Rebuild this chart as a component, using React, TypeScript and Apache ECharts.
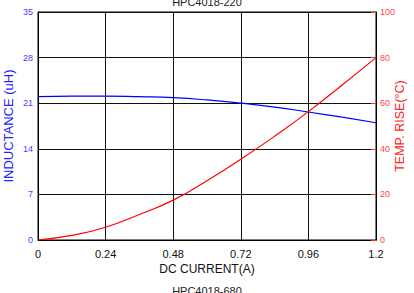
import React, { useEffect, useRef } from "react";
import * as echarts from "echarts";

const current = [0, 0.12, 0.24, 0.36, 0.48, 0.6, 0.72, 0.84, 0.96, 1.08, 1.2];
const inductance = [22.0, 22.1, 22.1, 22.0, 21.85, 21.5, 21.0, 20.4, 19.65, 18.85, 18.0];
const tempRise = [0, 2.0, 5.6, 11.2, 17.5, 26.0, 35.4, 45.5, 56.3, 68, 80];
const topTitle = "HPC4018-220";
const bottomTitle = "HPC4018-680";

export default function App() {
  const ref = useRef<HTMLDivElement>(null);
  useEffect(() => {
    if (!ref.current) return;
    const chart = echarts.init(ref.current, null, { renderer: "svg" });
    const font = "Liberation Sans, Arial, sans-serif";
    chart.setOption({
      animation: false,
      backgroundColor: "#ffffff",
      grid: {
        left: 38,
        top: 12,
        width: 338,
        height: 228,
        show: true,
        borderColor: "#000",
        borderWidth: 1,
        containLabel: false,
        outerBoundsMode: "none",
      },
      graphic: [
        { type: "text", left: "center", top: -4, style: { text: topTitle, font: `11px ${font}`, fill: "#222" } },
        { type: "text", left: "center", top: 285, style: { text: bottomTitle, font: `11px ${font}`, fill: "#222" } },
      ],
      xAxis: {
        type: "value",
        min: 0,
        max: 1.2,
        interval: 0.24,
        name: "DC CURRENT(A)",
        nameLocation: "middle",
        nameGap: 23,
        nameMoveOverlap: false,
        nameTextStyle: { fontFamily: font, fontSize: 12, color: "#111" },
        axisLine: { show: true, lineStyle: { color: "#000" } },
        axisTick: { show: false },
        axisLabel: {
          fontFamily: font,
          fontSize: 11,
          color: "#111",
          margin: 8,
          formatter: (v: number) => String(parseFloat(v.toFixed(2))),
        },
        splitLine: { show: true, lineStyle: { color: "#111", width: 1 } },
      },
      yAxis: [
        {
          type: "value",
          min: 0,
          max: 35,
          interval: 7,
          name: "INDUCTANCE (uH)",
          nameLocation: "middle",
          nameGap: 23,
          nameMoveOverlap: false,
          nameTextStyle: { fontFamily: font, fontSize: 13, color: "#2222ff" },
          axisLine: { show: true, lineStyle: { color: "#000" } },
          axisTick: { show: false },
          axisLabel: { fontFamily: font, fontSize: 9, color: "#4444ff", margin: 5 },
          splitLine: { show: true, lineStyle: { color: "#111", width: 1 } },
        },
        {
          type: "value",
          min: 0,
          max: 100,
          interval: 20,
          name: "TEMP. RISE(°C)",
          nameLocation: "middle",
          nameGap: 17,
          nameMoveOverlap: false,
          nameRotate: 90,
          nameTextStyle: { fontFamily: font, fontSize: 12.5, color: "#ff2222" },
          position: "right",
          axisLine: { show: true, lineStyle: { color: "#000" } },
          axisTick: { show: true, inside: true, length: 5, lineStyle: { color: "#ff3333" } },
          axisLabel: { fontFamily: font, fontSize: 9, color: "#ff4444", margin: 4 },
          splitLine: { show: false },
        },
      ],
      series: [
        {
          type: "line",
          yAxisIndex: 0,
          data: current.map((c, i) => [c, inductance[i]]),
          smooth: true,
          showSymbol: false,
          lineStyle: { color: "#0000ff", width: 1.2 },
        },
        {
          type: "line",
          yAxisIndex: 1,
          data: current.map((c, i) => [c, tempRise[i]]),
          smooth: true,
          showSymbol: false,
          lineStyle: { color: "#ff0000", width: 1.2 },
        },
      ],
    });
    return () => chart.dispose();
  }, []);
  return <div ref={ref} style={{ width: 414, height: 293, position: "absolute", left: 0, top: 0 }} />;
}
